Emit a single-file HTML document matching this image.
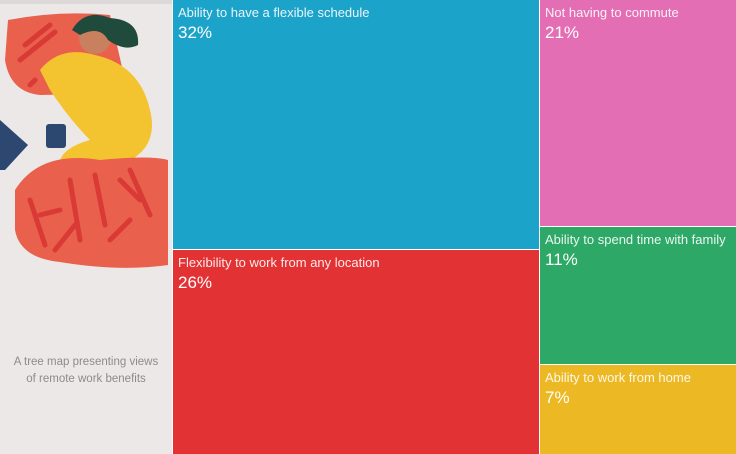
<!DOCTYPE html>
<html><head><meta charset="utf-8"><style>
body{margin:0;width:736px;height:454px;overflow:hidden;background:#fff;font-family:"Liberation Sans",sans-serif}
#left{position:absolute;left:0;top:0;width:172px;height:454px;background:#ebe8e7}
#cap{position:absolute;left:0;top:354px;width:172px;text-align:center;color:#8d8b8b;font-size:11.5px;line-height:17px}
.cell{position:absolute;box-sizing:border-box;color:#fff;padding:5px 0 0 5px;overflow:hidden}
.cell .l{font-size:13px;opacity:.9;white-space:nowrap}
.cell .v{font-size:17px;margin-top:3px}
</style></head><body>
<div id="left">
<svg width="172" height="340">
<rect x="0" y="0" width="172" height="4" fill="#dcd9d8"/>
<path d="M8 20 Q60 10 110 15 L125 80 Q90 95 40 95 Q10 92 5 60Z" fill="#e9604c"/>
<path d="M25 45 L50 25 M20 60 L55 32 M30 85 L35 80" stroke="#d93a36" stroke-width="5" stroke-linecap="round"/>
<path d="M40 70 Q60 45 95 55 Q140 65 150 110 Q160 150 120 165 Q80 175 60 170 Q55 150 90 140 Q70 120 50 90Z" fill="#f4c430"/>
<circle cx="95" cy="38" r="16" fill="#c9805f"/>
<path d="M72 30 Q85 8 110 18 Q140 20 138 45 Q125 52 108 40 Q100 25 80 35Z" fill="#1f4a3c"/>
<path d="M15 190 Q40 150 100 160 Q150 155 168 160 L168 265 Q120 272 60 262 Q20 258 15 230Z" fill="#e9604c"/>
<path d="M30 200 L45 245 M40 215 L60 210 M70 180 L80 240 M95 175 L105 225 M120 180 L140 200 M130 170 L150 215 M55 250 L75 225 M110 240 L130 220" stroke="#d93a36" stroke-width="5" stroke-linecap="round"/>
<rect x="46" y="124" width="20" height="24" rx="3" fill="#2c4770"/>
<path d="M0 120 L28 145 L5 170 L0 170Z" fill="#2c4770"/>
</svg>
<div id="cap">A tree map presenting views<br>of remote work benefits</div>
</div>
<div id="tm"></div>
<script>
const categories=["Ability to have a flexible schedule","Flexibility to work from any location","Not having to commute","Ability to spend time with family","Ability to work from home"];
const values=[32,26,21,11,7];
const sizes=[359,293,174,106,68];
const colors=["#1ca3c9","#e23234","#e46eb4","#2ea866","#ecb823"];
const names=["cell-flexible-schedule","cell-any-location","cell-no-commute","cell-family-time","cell-work-from-home"];
const X0=173,W=563,H=454,tm=document.getElementById('tm');
const total=sizes.reduce((a,b)=>a+b,0);
const leftSum=sizes[0]+sizes[1];
const lw=Math.round(W*leftSum/total);
function place(i,x,y,w,h){
 const d=document.createElement('div');d.className='cell';
 
 
 d.style.cssText=`left:${x}px;top:${y}px;width:${w}px;height:${h}px;background:${colors[i]}`;
 d.innerHTML=`<div class="l">${categories[i]}</div><div class="v">${values[i]}%</div>`;
 tm.appendChild(d);
}
let y=0;
[0,1].forEach(i=>{const h=Math.round(H*sizes[i]/leftSum);place(i,X0,y,lw-1,(i==1?H-y:h-1));y+=h;});
const rs=sizes[2]+sizes[3]+sizes[4];y=0;
[2,3,4].forEach(i=>{const h=Math.round(H*sizes[i]/rs);place(i,X0+lw,y,W-lw,(i==4?H-y:h-1));y+=h;});
</script>
</body></html>
